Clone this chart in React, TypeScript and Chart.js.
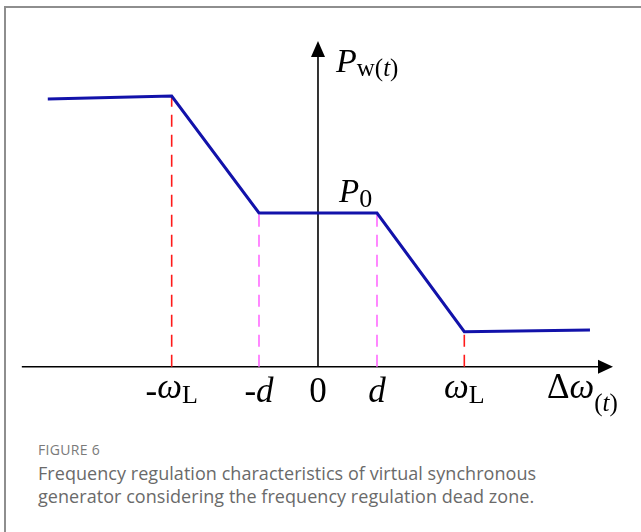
import { useEffect, useRef } from "react";
import { Chart, registerables } from "chart.js";

Chart.register(...registerables);

// Characteristic parameters (per-unit on the drawing)
const D = 1; // half width of the frequency dead zone
const OMEGA_L = 2.48; // frequency deviation where regulation saturates
const P0 = 1; // scheduled output inside the dead zone

// Break points of the droop characteristic, left to right
const deltaOmega = [-4.58, -OMEGA_L, -D, D, OMEGA_L, 4.61];
const powerOut = [1.742, 1.761, P0, P0, 0.228, 0.239];

// Vertical guides dropped from the break points to the frequency axis
const guideX = [-OMEGA_L, -D, D, OMEGA_L];
const guideY = [1.761, P0, P0, 0.228];
const guideColors = ["#ff1a1a", "#ff6bff", "#ff6bff", "#ff1a1a"];

// Axis extents (arrow tips) in data units
const xAxisFrom = -5.02;
const xAxisTo = 5.0;
const yAxisTo = 2.12;

type Run = { t: string; italic?: boolean; sub?: boolean; greek?: boolean };

// Labels under the frequency axis
const tickValues = [-OMEGA_L, -D, 0, D, OMEGA_L];
const tickLabels: Run[][] = [
  [{ t: "-" }, { t: "ω", italic: true, greek: true }, { t: "L", sub: true }],
  [{ t: "-" }, { t: "d", italic: true }],
  [{ t: "0" }],
  [{ t: "d", italic: true }],
  [{ t: "ω", italic: true, greek: true }, { t: "L", sub: true }],
];

const xAxisTitle: Run[] = [
  { t: "Δ", greek: true },
  { t: "ω", italic: true, greek: true },
  { t: "(", sub: true },
  { t: "t", sub: true, italic: true },
  { t: ")", sub: true },
];
const yAxisTitle: Run[] = [
  { t: "P", italic: true },
  { t: "w(", sub: true },
  { t: "t", sub: true, italic: true },
  { t: ")", sub: true },
];
const p0Label: Run[] = [{ t: "P", italic: true }, { t: "0", sub: true }];

const SERIF = '"Liberation Serif", "Times New Roman", "DejaVu Serif", serif';

function drawRuns(
  ctx: CanvasRenderingContext2D,
  runs: Run[],
  x: number,
  baseline: number,
  size: number,
  subSize: number,
  subDrop: number,
  greekRise: number,
  align: "center" | "left"
) {
  const fontOf = (r: Run) =>
    `${r.italic ? "italic " : ""}${r.sub ? subSize : size}px ${SERIF}`;
  const widths = runs.map((r) => {
    ctx.font = fontOf(r);
    return ctx.measureText(r.t).width;
  });
  const total = widths.reduce((a, b) => a + b, 0);
  let cx = align === "center" ? x - total / 2 : x;
  ctx.fillStyle = "#000";
  ctx.textAlign = "left";
  ctx.textBaseline = "alphabetic";
  runs.forEach((r, i) => {
    ctx.font = fontOf(r);
    const dy = r.sub ? subDrop : r.greek ? -greekRise : 0;
    ctx.fillText(r.t, cx, baseline + dy);
    cx += widths[i];
  });
}

const axesPlugin = {
  id: "arrowAxes",
  beforeDatasetsDraw(chart: any) {
    const { ctx, scales } = chart;
    const xs = scales.x;
    const ys = scales.y;
    const ox = xs.getPixelForValue(0);
    const oy = ys.getPixelForValue(0);
    const xEnd = xs.getPixelForValue(xAxisTo);
    const xStart = xs.getPixelForValue(xAxisFrom);
    const yEnd = ys.getPixelForValue(yAxisTo);
    ctx.save();
    ctx.strokeStyle = "#000";
    ctx.fillStyle = "#000";
    ctx.lineWidth = 1.6;
    // frequency axis
    ctx.beginPath();
    ctx.moveTo(xStart, oy);
    ctx.lineTo(xEnd - 10, oy);
    ctx.stroke();
    ctx.beginPath();
    ctx.moveTo(xEnd, oy);
    ctx.lineTo(xEnd - 15, oy - 7);
    ctx.lineTo(xEnd - 15, oy + 7);
    ctx.closePath();
    ctx.fill();
    // power axis
    ctx.beginPath();
    ctx.moveTo(ox, oy);
    ctx.lineTo(ox, yEnd + 10);
    ctx.stroke();
    ctx.beginPath();
    ctx.moveTo(ox, yEnd);
    ctx.lineTo(ox - 7, yEnd + 16);
    ctx.lineTo(ox + 7, yEnd + 16);
    ctx.closePath();
    ctx.fill();
    ctx.restore();
  },
  afterDraw(chart: any) {
    const { ctx, scales } = chart;
    const xs = scales.x;
    const ys = scales.y;
    const ox = xs.getPixelForValue(0);
    const oy = ys.getPixelForValue(0);
    ctx.save();
    const tickBase = oy + 35;
    tickValues.forEach((v, i) => {
      drawRuns(ctx, tickLabels[i], xs.getPixelForValue(v), tickBase, 35, 26, 1, 4, "center");
    });
    drawRuns(ctx, xAxisTitle, xs.getPixelForValue(xAxisTo) - 66, tickBase, 35, 25, 9, 4, "left");
    drawRuns(ctx, yAxisTitle, ox + 18, ys.getPixelForValue(yAxisTo) + 31, 34, 25, 4, 0, "left");
    drawRuns(ctx, p0Label, ox + 21, ys.getPixelForValue(P0) - 11, 33, 26, 5, 0, "left");
    ctx.restore();
  },
};

export default function App() {
  const canvasRef = useRef<HTMLCanvasElement | null>(null);

  useEffect(() => {
    const canvas = canvasRef.current;
    if (!canvas) return;

    const curve = deltaOmega.map((x, i) => ({ x, y: powerOut[i] }));
    const guides = guideX.map((x, i) => ({
      data: [
        { x, y: 0 },
        { x, y: guideY[i] },
      ],
      borderColor: guideColors[i],
      borderWidth: 1.6,
      borderDash: [12, 8],
      pointRadius: 0,
      fill: false,
    }));

    const chart = new Chart(canvas, {
      type: "line",
      data: {
        datasets: [
          {
            data: curve,
            borderColor: "#1212aa",
            borderWidth: 3,
            pointRadius: 0,
            fill: false,
            tension: 0,
            order: 0,
          },
          ...guides.map((g) => ({ ...g, order: 1 })),
        ],
      },
      options: {
        responsive: false,
        animation: false,
        devicePixelRatio: 1,
        layout: { padding: 0, autoPadding: false },
        plugins: {
          legend: { display: false },
          tooltip: { enabled: false },
          title: { display: false },
        },
        scales: {
          x: { type: "linear", display: false, min: -5.39, max: 5.475 },
          y: { type: "linear", display: false, min: -0.412, max: 2.386 },
        },
        elements: { line: { borderCapStyle: "butt" } },
      },
      plugins: [axesPlugin],
    });

    return () => chart.destroy();
  }, []);

  return (
    <div
      style={{
        position: "fixed",
        left: 0,
        top: 0,
        width: 641,
        height: 532,
        background: "#fff",
        overflow: "hidden",
      }}
    >
      <div
        style={{
          position: "absolute",
          left: 4,
          top: 6,
          right: -10,
          bottom: -10,
          borderTop: "2px solid #8e8e8e",
          borderLeft: "2px solid #8e8e8e",
        }}
      />
      <canvas
        ref={canvasRef}
        width={641}
        height={430}
        style={{ position: "absolute", left: 0, top: 0, width: 641, height: 430 }}
      />
      <div
        style={{
          position: "absolute",
          left: 38,
          top: 443,
          fontFamily: '"Open Sans", "Noto Sans", sans-serif',
          fontSize: 14,
          lineHeight: "14px",
          color: "#7a7a7a",
          letterSpacing: 0.3,
        }}
      >
        FIGURE 6
      </div>
      <div
        style={{
          position: "absolute",
          left: 38,
          top: 462,
          width: 600,
          fontFamily: '"Open Sans", "Noto Sans", sans-serif',
          fontSize: 18,
          lineHeight: "23px",
          color: "#6a6a6a",
          letterSpacing: 0.05,
        }}
      >
        Frequency regulation characteristics of virtual synchronous
        <br />
        generator considering the frequency regulation dead zone.
      </div>
    </div>
  );
}
